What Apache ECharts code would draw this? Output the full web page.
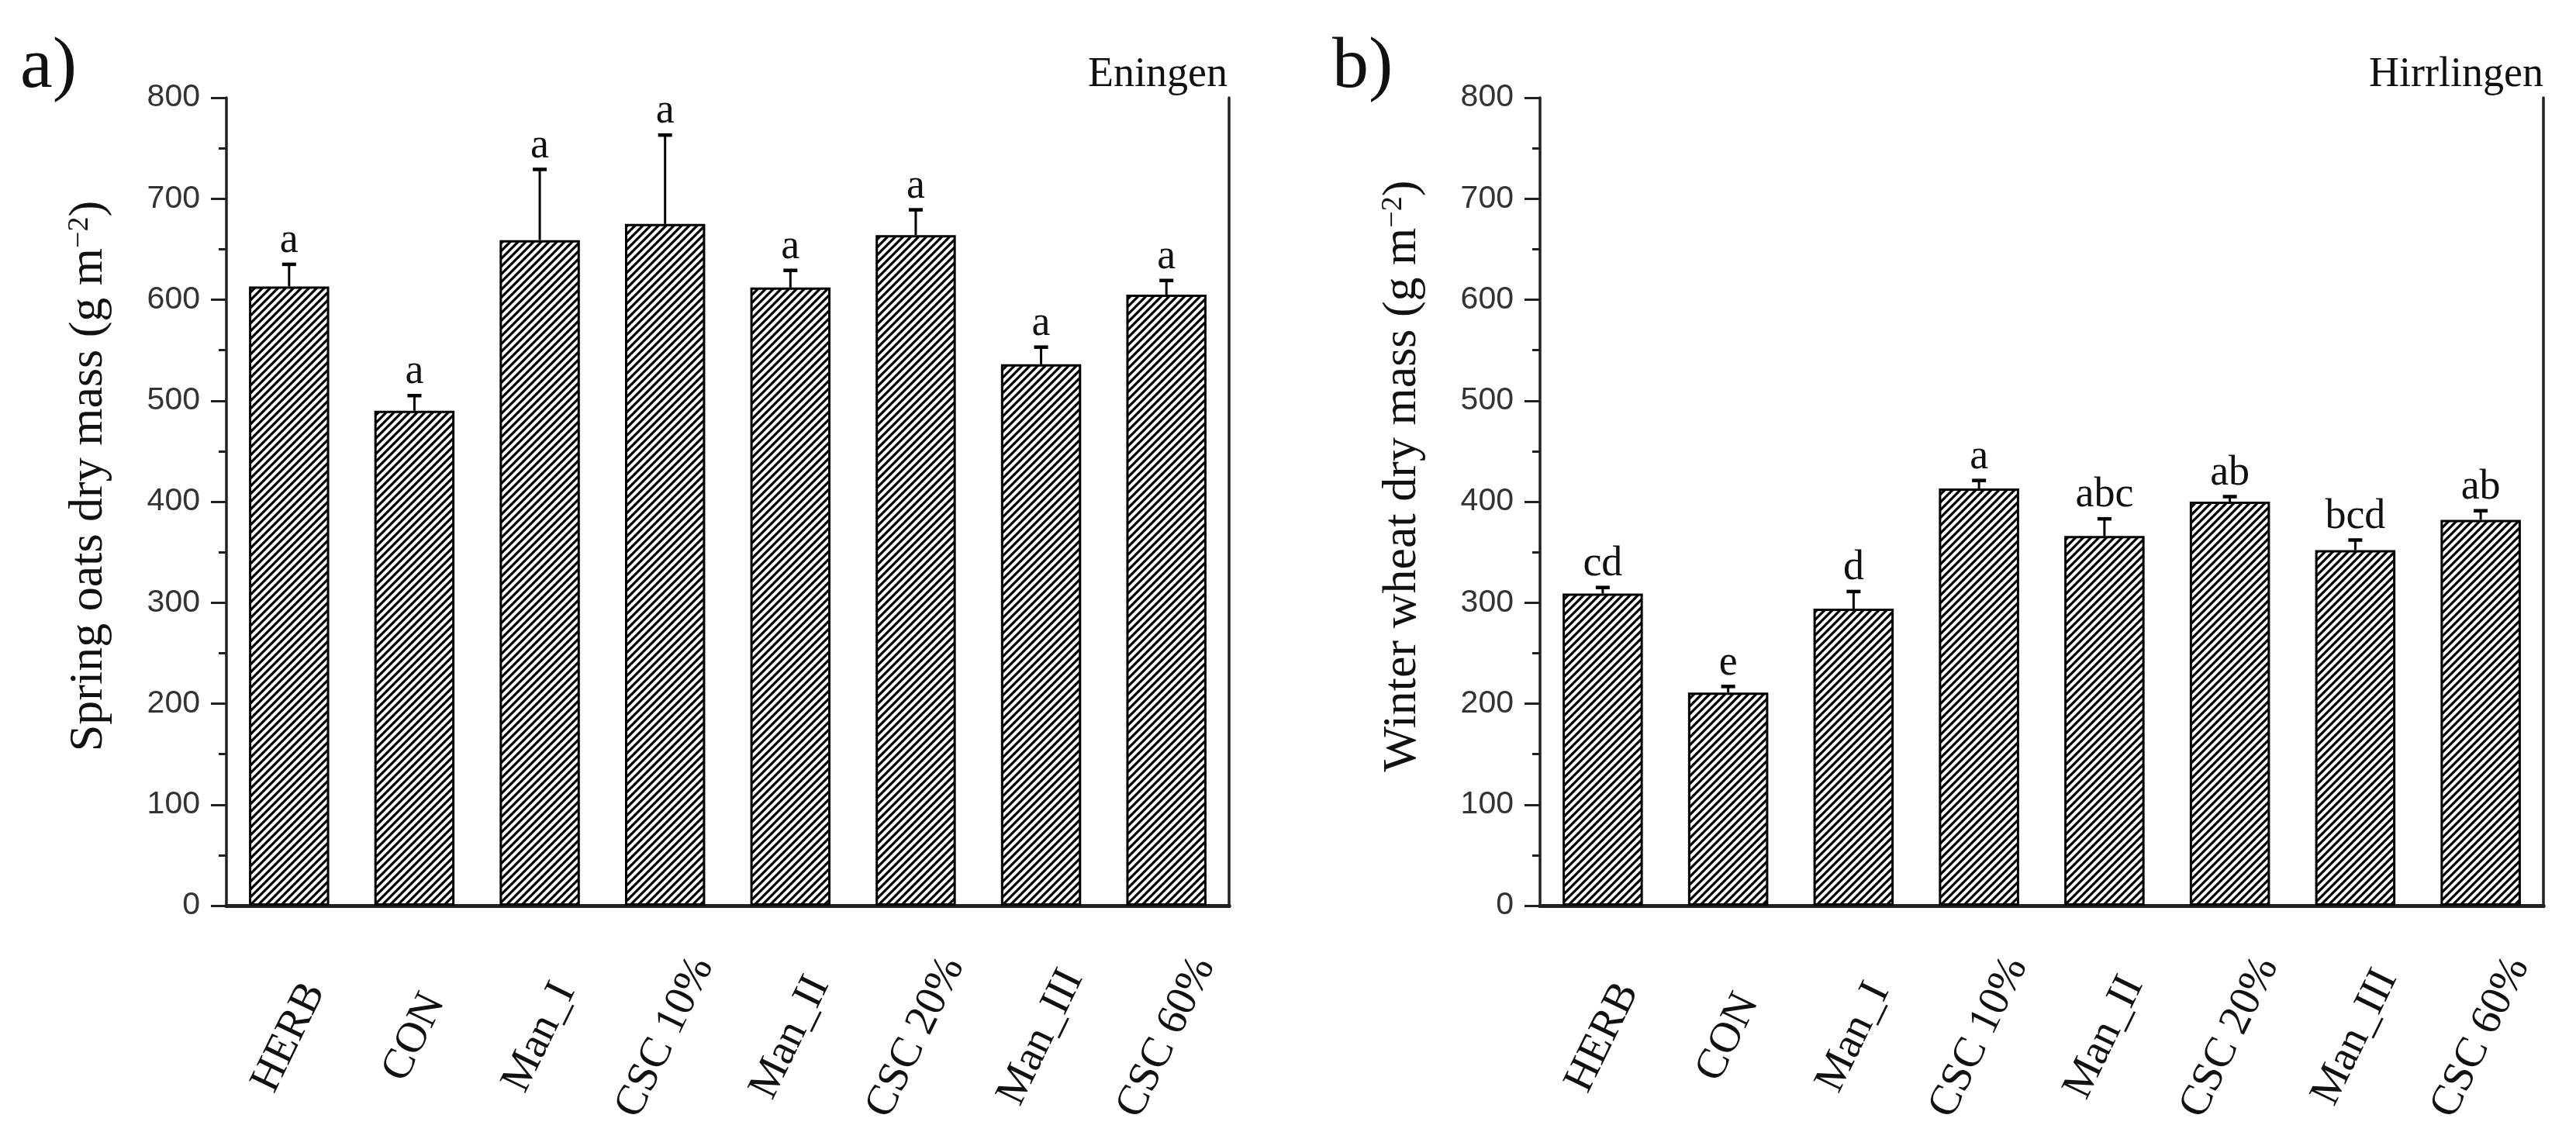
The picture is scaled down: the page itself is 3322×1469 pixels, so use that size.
<!DOCTYPE html>
<html>
<head>
<meta charset="utf-8">
<script src="https://cdn.jsdelivr.net/npm/echarts@6/dist/echarts.min.js"></script>
<style>
html,body{margin:0;padding:0;background:#fff;}
#chart{width:3322px;height:1469px;}
</style>
</head>
<body>
<div id="chart"></div>
<script>
// ---- data ----
const categories = ['HERB', 'CON', 'Man_I', 'CSC 10%', 'Man_II', 'CSC 20%', 'Man_III', 'CSC 60%'];
const oatsMean   = [613, 490, 659, 675, 612, 664, 536, 605];
const oatsErr    = [22, 15, 70, 88, 17, 25, 17, 14];
const oatsLetters = ['a', 'a', 'a', 'a', 'a', 'a', 'a', 'a'];
const wheatMean  = [309, 211, 294, 413, 366, 400, 352, 382];
const wheatErr   = [6, 6, 17, 8, 17, 5, 10, 9];
const wheatLetters = ['cd', 'e', 'd', 'a', 'abc', 'ab', 'bcd', 'ab'];
const yTicks = [0, 100, 200, 300, 400, 500, 600, 700, 800];

// ---- hatch pattern ----
function makeHatch() {
  const c = document.createElement('canvas');
  const s = 10;
  c.width = s; c.height = s;
  const g = c.getContext('2d');
  g.fillStyle = '#fff';
  g.fillRect(0, 0, s, s);
  g.strokeStyle = '#000';
  g.lineWidth = 3.2;
  g.beginPath();
  g.moveTo(-2, s + 2); g.lineTo(s + 2, -2);
  g.moveTo(-s / 2 - 2, s / 2 + 2); g.lineTo(s / 2 + 2, -s / 2 - 2);
  g.moveTo(s / 2 - 2, s * 1.5 + 2); g.lineTo(s * 1.5 + 2, s / 2 - 2);
  g.stroke();
  return c;
}
const hatch = { image: makeHatch(), repeat: 'repeat' };

const serif = '"Liberation Serif", "Times New Roman", serif';
const sans = '"Liberation Sans", Arial, sans-serif';

function xAxesFor(grid) {
  return [
    {
      gridIndex: grid, type: 'category', data: categories, position: 'bottom',
      axisLine: { lineStyle: { color: '#222', width: 5 } },
      axisTick: { alignWithLabel: true, length: 20, lineStyle: { color: '#111', width: 3 } },
      axisLabel: {
        interval: 0, rotate: 64, align: 'center', verticalAlign: 'middle', margin: 170,
        fontFamily: serif, fontSize: 56, color: '#111'
      }
    },
    {
      gridIndex: grid, type: 'category', data: categories, position: 'top',
      axisLine: { lineStyle: { color: '#222', width: 5 } },
      axisTick: { show: false }, axisLabel: { show: false }
    }
  ];
}
function yAxesFor(grid, name) {
  return [
    {
      gridIndex: grid, type: 'value', min: yTicks[0], max: yTicks[yTicks.length - 1], interval: 100,
      position: 'left',
      name: name, nameLocation: 'middle', nameGap: 146,
      nameTextStyle: {
        fontFamily: serif, fontSize: 62, color: '#111', padding: [0, 0, 0, 66],
        rich: { s: { fontFamily: serif, fontSize: 38, color: '#111', verticalAlign: 'top', lineHeight: 62 } }
      },
      axisLine: { show: true, lineStyle: { color: '#222', width: 3.5 } },
      axisTick: { show: true, length: 20, lineStyle: { color: '#222', width: 3 } },
      minorTick: { show: true, splitNumber: 2, length: 10, lineStyle: { color: '#222', width: 3 } },
      splitLine: { show: false },
      axisLabel: { margin: 34, fontFamily: sans, fontSize: 41, color: '#333' }
    },
    {
      gridIndex: grid, type: 'value', min: yTicks[0], max: yTicks[yTicks.length - 1], interval: 100,
      position: 'right',
      axisLine: { show: true, lineStyle: { color: '#222', width: 3.5 } },
      axisTick: { show: false }, axisLabel: { show: false }, splitLine: { show: false }
    }
  ];
}

function barSeries(axisIdx, values) {
  return {
    type: 'bar', xAxisIndex: axisIdx, yAxisIndex: axisIdx, data: values,
    barWidth: '64%',
    itemStyle: { color: hatch, borderColor: '#000', borderWidth: 3 },
    z: 2
  };
}
function errSeries(axisIdx, values, errs, letters) {
  return {
    type: 'custom', xAxisIndex: axisIdx, yAxisIndex: axisIdx,
    data: values.map((v, i) => [i, v, errs[i]]),
    encode: { x: 0, y: 1 },
    z: 5,
    renderItem: function (params, api) {
      const i = api.value(0);
      const base = api.coord([i, api.value(1)]);
      const top = api.coord([i, api.value(1) + api.value(2)]);
      const lab = letters[params.dataIndex];
      return {
        type: 'group',
        children: [
          { type: 'line', shape: { x1: base[0], y1: base[1], x2: top[0], y2: top[1] },
            style: { stroke: '#000', lineWidth: 3 } },
          { type: 'line', shape: { x1: top[0] - 9, y1: top[1], x2: top[0] + 9, y2: top[1] },
            style: { stroke: '#000', lineWidth: 4.5 } },
          { type: 'text', x: top[0], y: top[1] - 3,
            style: { text: lab, align: 'center', verticalAlign: 'bottom',
                     textAlign: 'center', textVerticalAlign: 'bottom',
                     fontFamily: serif, fontSize: 54, fill: '#111' } }
        ]
      };
    }
  };
}

const chart = echarts.init(document.getElementById('chart'));
chart.setOption({
  backgroundColor: '#fff',
  animation: false,
  grid: [
    { left: 292, top: 126, width: 1293, height: 1042 },
    { left: 1986, top: 126, width: 1294, height: 1042 }
  ],
  xAxis: [].concat(xAxesFor(0), xAxesFor(1)),
  yAxis: [].concat(
    yAxesFor(0, 'Spring oats dry mass (g m{s|\u22122})'),
    yAxesFor(1, 'Winter wheat dry mass (g m{s|\u22122})')
  ),
  graphic: [
    { type: 'text', left: 26, top: 40, style: { text: 'a)', fontFamily: serif, fontSize: 94, fill: '#111' } },
    { type: 'text', left: 1718, top: 40, style: { text: 'b)', fontFamily: serif, fontSize: 94, fill: '#111' } },
    { type: 'text', right: 3322 - 1583, top: 70, style: { text: 'Eningen', fontFamily: serif, fontSize: 54, fill: '#111' } },
    { type: 'text', right: 3322 - 3280, top: 70, style: { text: 'Hirrlingen', fontFamily: serif, fontSize: 54, fill: '#111' } }
  ],
  series: [
    barSeries(0, oatsMean),
    errSeries(0, oatsMean, oatsErr, oatsLetters),
    barSeries(2, wheatMean),
    errSeries(2, wheatMean, wheatErr, wheatLetters)
  ]
});
</script>
</body>
</html>
